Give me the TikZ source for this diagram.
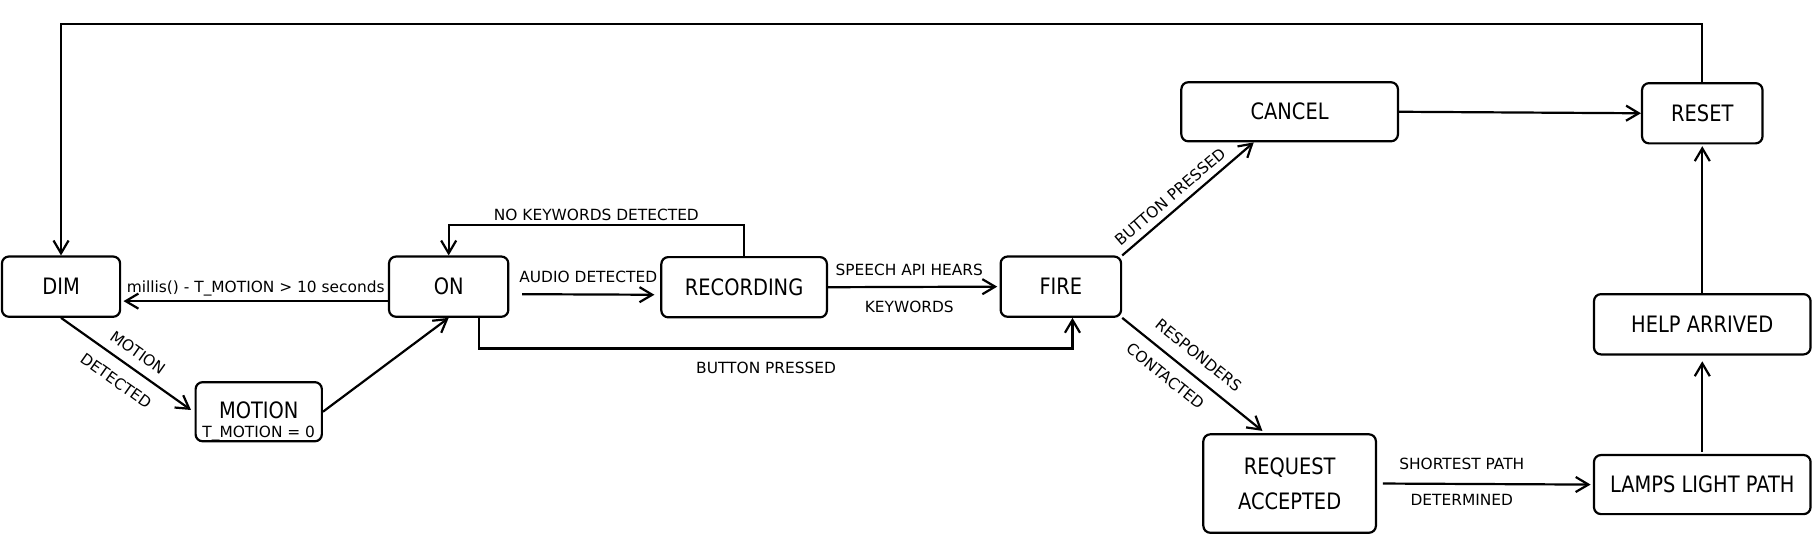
\documentclass[tikz,border=0pt]{standalone}
\usepackage{fontspec}
\setmainfont{DejaVu Sans}
\newfontfamily\statefont[FakeStretch=0.86]{DejaVu Sans}
\usetikzlibrary{arrows.meta}
\begin{document}
\begin{tikzpicture}[x=1pt,y=-1pt,
  statebox/.style={draw, line width=1.9pt, rounded corners=6pt, inner sep=0pt,
    font=\statefont\fontsize{19.5}{23}\selectfont},
  stext/.style={inner sep=0pt, font=\statefont\fontsize{19.5}{23}\selectfont},
  arr/.style={line width=1.9pt, -{Straight Barb[length=11pt,width=13pt]}},
  lbl/.style={font=\fontsize{13.3}{16}\selectfont, inner sep=0pt, text height=9.7pt, text depth=0pt},
]
\useasboundingbox (0,0) rectangle (1568,468);

% states
\node[statebox, minimum width=102pt, minimum height=52pt] (dim) at (52.7,247.5) {DIM};
\node[statebox, minimum width=103pt, minimum height=52pt] (on) at (387.4,247.5) {ON};
\node[statebox, minimum width=109pt, minimum height=51pt] (motion) at (223.4,355.5) {};
\node[stext, anchor=base] (motionname) at (223.4,361) {MOTION};
\node[lbl, text height=, text depth=, anchor=base] (motionvar) at (223.4,377.5) {T\_MOTION = 0};
\node[statebox, minimum width=143pt, minimum height=52pt] (recording) at (642.5,248) {RECORDING};
\node[statebox, minimum width=104pt, minimum height=52pt] (fire) at (916,247.5) {FIRE};
\node[statebox, minimum width=187pt, minimum height=51pt] (cancel) at (1113.5,96.5) {CANCEL};
\node[statebox, minimum width=104pt, minimum height=52pt] (reset) at (1469.8,97.8) {RESET};
\node[statebox, minimum width=187pt, minimum height=52pt] (help) at (1469.8,280) {HELP ARRIVED};
\node[statebox, minimum width=187pt, minimum height=51pt] (lamps) at (1469.8,418.4) {LAMPS LIGHT PATH};
\node[statebox, minimum width=149pt, minimum height=85pt, align=center,
  font=\statefont\fontsize{19.5}{30.6}\selectfont] (request) at (1113.5,417.5) {REQUEST\\ACCEPTED};

% connectors
\coordinate (topy) at (0,20.8);
\draw[arr] (reset.north) -- (reset.north |- topy) -| (dim.north);

\draw[arr] ([yshift=-12.5pt]on.west) -- node[lbl, above=6.5pt] (lblmillis) {millis() - T\_MOTION > 10 seconds}
  ([xshift=2pt,yshift=-12.5pt]dim.east);

\draw[arr] (dim.south) --
  node[lbl, sloped, pos=0.52, above=8pt] (lblmotion) {MOTION}
  node[lbl, sloped, pos=0.51, below=11pt] (lbldetected) {DETECTED}
  ([xshift=-3pt,yshift=1.5pt]motion.west);

\draw[arr] (motion.east) -- (on.south);

\draw[arr] ([xshift=11pt,yshift=-6.5pt]on.east) -- node[lbl, above=9pt] (lblaudio) {AUDIO DETECTED}
  ([xshift=-5pt,yshift=-6.5pt]recording.west);

\draw[arr] (recording.north) -- ++(0,-26.5) -|
  node[lbl, pos=0.25, above=2.8pt] (lblnokw) {NO KEYWORDS DETECTED} (on.north);

\draw[arr] (recording.east) --
  node[lbl, pos=0.48, above=9.3pt] (lblspeech) {SPEECH API HEARS}
  node[lbl, pos=0.48, below=11.5pt] (lblkw) {KEYWORDS}
  ([xshift=-2pt]fire.west);

\draw[arr] ([xshift=26pt]on.south) -- ++(0,26.5) -|
  node[lbl, pos=0.242, below=10.5pt] (lblbutton1) {BUTTON PRESSED} ([xshift=10pt]fire.south);

\draw[arr] (fire.north east) --
  node[lbl, sloped, pos=0.43, above=5.7pt] (lblbutton2) {BUTTON PRESSED}
  ([xshift=-31pt]cancel.south);

\draw[arr] (fire.south east) --
  node[lbl, sloped, pos=0.46, above=10.5pt] (lblresp) {RESPONDERS}
  node[lbl, sloped, pos=0.39, below=10pt] (lblcont) {CONTACTED}
  ([xshift=-23.5pt,yshift=2pt]request.north);

\draw[arr] (cancel.east) -- (reset.west);

\draw[arr] ([xshift=5pt]request.east) --
  node[lbl, pos=0.38, above=11.5pt] (lblshort) {SHORTEST PATH}
  node[lbl, pos=0.38, below=8pt] (lbldet) {DETERMINED}
  ([xshift=-2pt]lamps.west);

\draw[arr] ([yshift=2pt]lamps.north) -- ([yshift=-5pt]help.south);
\draw[arr] (help.north) -- ([yshift=-1.5pt]reset.south);
\end{tikzpicture}
\end{document}
